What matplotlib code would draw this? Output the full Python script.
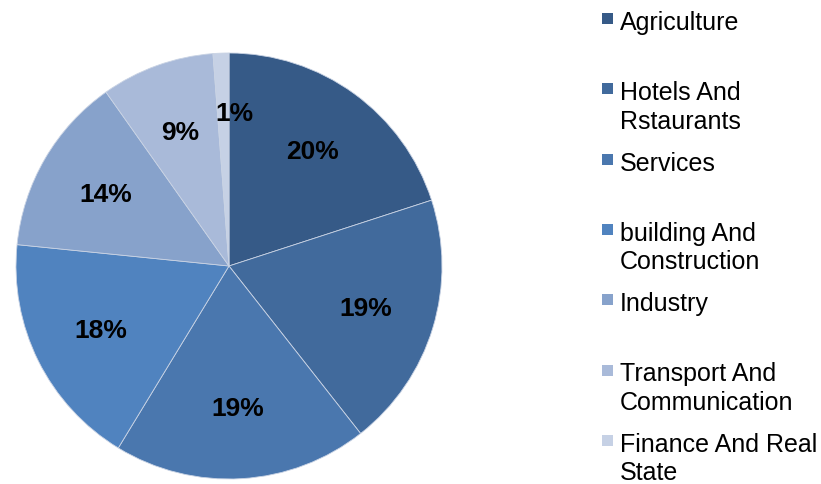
import matplotlib
matplotlib.use("Agg")
import matplotlib.pyplot as plt
from matplotlib.patches import Rectangle

categories = ["Agriculture", "Hotels And\nRstaurants", "Services",
              "building And\nConstruction", "Industry",
              "Transport And\nCommunication", "Finance And Real\nState"]
values = [20.0, 19.4, 19.3, 17.9, 13.6, 8.6, 1.2]
colors = ["#365a87", "#416a9c", "#4a77ae", "#5083bf", "#87a2cb", "#a9bad9", "#c6d1e5"]

W, H = 821, 485
fig = plt.figure(figsize=(W / 100, H / 100), dpi=100)
plt.rcParams['font.family'] = ['Liberation Sans', 'DejaVu Sans']

cx, cy, r = 229, 267, 213
ax = fig.add_axes([(cx - r) / W, (H - cy - r) / H, 2 * r / W, 2 * r / H])
wedges, texts, autotexts = ax.pie(
    values, colors=colors, startangle=90, counterclock=False,
    autopct='%.0f%%', pctdistance=0.67, radius=1,
    wedgeprops=dict(edgecolor='#c9d3e4', linewidth=0.6),
    textprops=dict(fontsize=19, fontweight='bold', color='black'))
# small slice label sits slightly further out, centred on the top boundary
x1, y1 = autotexts[-1].get_position()
autotexts[-1].set_position((x1 + 0.05, y1 + 0.05))
ax.set_xlim(-1, 1)
ax.set_ylim(-1, 1)
ax.set_aspect('equal')

# legend drawn manually
y0, step = 21, 70.3
for i, (lab, col) in enumerate(zip(categories, colors)):
    yc = y0 + step * i
    fig.patches.append(Rectangle((602 / W, 1 - (yc + 4) / H), 11 / W, 11 / H,
                                 transform=fig.transFigure, facecolor=col,
                                 edgecolor='none'))
    fig.text(620 / W, 1 - (yc - 10) / H, lab, fontsize=18, va='top',
             ha='left', linespacing=1.24, color='black')

fig.savefig("out.png", dpi=100)
